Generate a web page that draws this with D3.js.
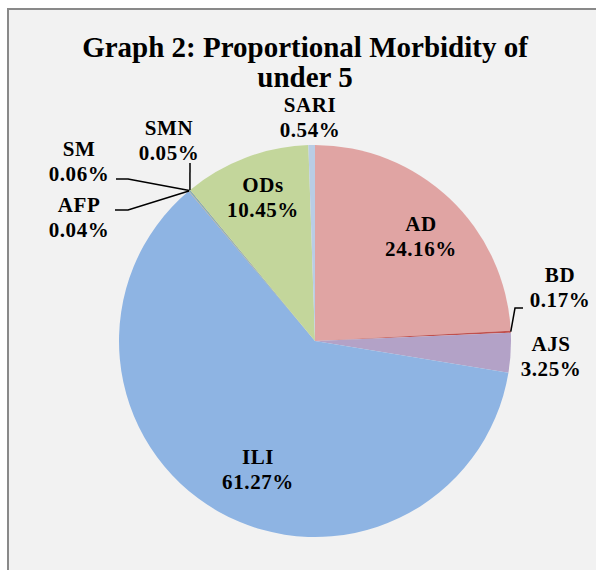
<!DOCTYPE html>
<html>
<head>
<meta charset="utf-8">
<script src="https://cdn.jsdelivr.net/npm/d3@7"></script>
<style>
  body { margin: 0; background: #fff; }
  text { font-family: "Liberation Serif", serif; font-weight: bold; fill: #000; }
</style>
</head>
<body>
<div id="chart"></div>
<script>
// Data, clockwise from 12 o'clock
var categories = ["AD", "BD", "AJS", "ILI", "AFP", "SM", "SMN", "ODs", "SARI"];
var values = [24.16, 0.17, 3.25, 61.27, 0.04, 0.06, 0.05, 10.45, 0.54];
var colors = ["#e0a4a3", "#c0504d", "#b3a2c7", "#8eb4e3", "#f79646", "#4bacc6", "#7f7f7f", "#c3d69b", "#b9cde5"];

var width = 596;
var height = 570;
var cx = 315, cy = 341;
var radius = 196;

// label anchor offsets from the pie centre (text centre of the two lines)
var labelPos = {
	AD: [106, -104], BD: [245, -53], AJS: [236, 16], ILI: [-57, 129],
	AFP: [-236, -123], SM: [-236, -179], SMN: [-146, -200], ODs: [-52, -143], SARI: [-5, -223]
};
// leader lines: points relative to centre, the slice edge point is added at the end
var leaders = {
	BD: [[208, -33], [200, -33]],
	SM: [[-199, -162], [-187, -162]],
	AFP: [[-200, -131], [-187, -131]],
	SMN: [[-125, -178]]
};

var svg = d3.select("#chart").append("svg")
		.attr("width", width)
		.attr("height", height);

svg.append("rect")
		.attr("x", 8)
		.attr("y", 9)
		.attr("width", 620)
		.attr("height", 600)
		.attr("fill", "#f2f2f2")
		.attr("stroke", "#898989")
		.attr("stroke-width", 2);

svg.append("text")
		.attr("x", 305)
		.attr("y", 57)
		.attr("text-anchor", "middle")
		.style("font-size", "29px")
		.text("Graph 2: Proportional Morbidity of");
svg.append("text")
		.attr("x", 305)
		.attr("y", 87)
		.attr("text-anchor", "middle")
		.style("font-size", "29px")
		.text("under 5");

var g = svg.append("g")
		.attr("transform", "translate(" + cx + "," + cy + ")");

var pie = d3.pie()
		.sort(null)
		.value(function(d, i) { return values[i]; });

var arc = d3.arc()
		.innerRadius(0)
		.outerRadius(radius);

var arcs = pie(categories);

g.selectAll("path")
		.data(arcs)
		.enter().append("path")
		.attr("d", arc)
		.attr("fill", function(d, i) { return colors[i]; });

// leader lines
arcs.forEach(function(d) {
	var pts = leaders[d.data];
	if (!pts) return;
	var a = (d.startAngle + d.endAngle) / 2;
	var edge = [radius * Math.sin(a), -radius * Math.cos(a)];
	g.append("path")
			.attr("d", d3.line()(pts.concat([edge])))
			.attr("fill", "none")
			.attr("stroke", "#000")
			.attr("stroke-width", 1.5);
});

var labels = g.selectAll(".label")
		.data(arcs)
		.enter().append("text")
		.attr("class", "label")
		.attr("text-anchor", "middle")
		.style("font-size", "21px")
		.style("letter-spacing", "0.6px");

labels.append("tspan")
		.attr("x", function(d) { return labelPos[d.data][0]; })
		.attr("y", function(d) { return labelPos[d.data][1] - 6; })
		.text(function(d) { return d.data; });
labels.append("tspan")
		.attr("x", function(d) { return labelPos[d.data][0]; })
		.attr("y", function(d) { return labelPos[d.data][1] + 19; })
		.text(function(d) { return d3.format(".2f")(d.value) + "%"; });
</script>
</body>
</html>
